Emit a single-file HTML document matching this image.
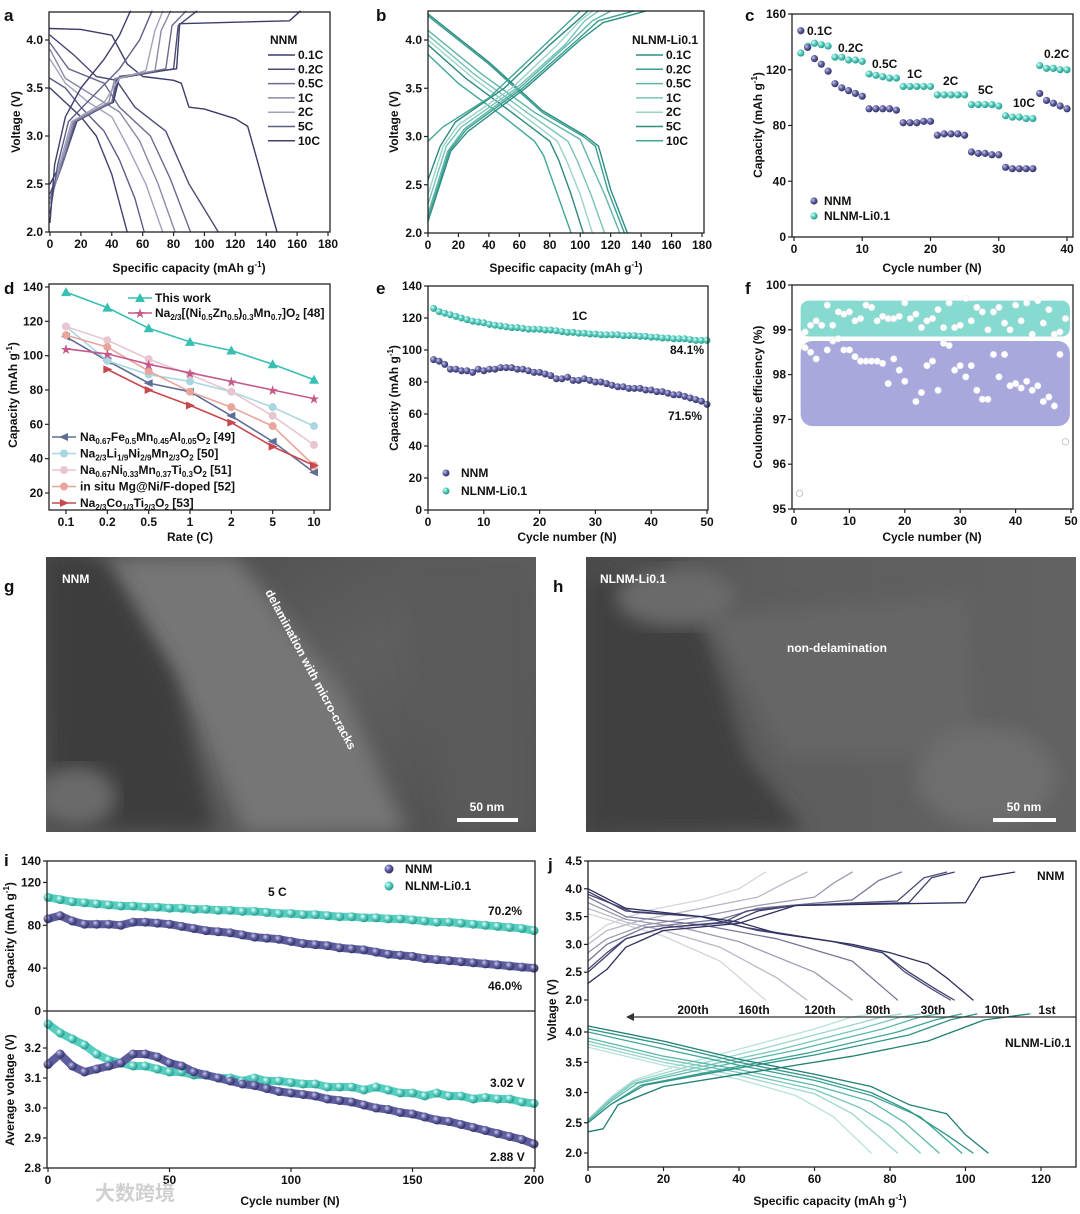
<!DOCTYPE html>
<html><head><meta charset="utf-8">
<style>
html,body{margin:0;padding:0;background:#fff;}
svg{display:block;font-family:"Liberation Sans","Noto Sans CJK SC",sans-serif;}
text{font-weight:bold;fill:#111;}
</style></head>
<body>
<svg id="fig" width="1080" height="1214" viewBox="0 0 1080 1214" xmlns="http://www.w3.org/2000/svg">
<defs>
<radialGradient id="gN" cx="35%" cy="35%" r="65%"><stop offset="0" stop-color="#c9c9ea"/><stop offset="0.5" stop-color="#6060a0"/><stop offset="1" stop-color="#33336a"/></radialGradient>
<radialGradient id="gL" cx="35%" cy="35%" r="65%"><stop offset="0" stop-color="#e6fffb"/><stop offset="0.5" stop-color="#56cbbd"/><stop offset="1" stop-color="#2a9c8f"/></radialGradient>
<linearGradient id="semG" x1="0" y1="0" x2="1" y2="1"><stop offset="0" stop-color="#4a4a4a"/><stop offset="0.5" stop-color="#5f5f5f"/><stop offset="1" stop-color="#505050"/></linearGradient>
<linearGradient id="semH" x1="0" y1="0" x2="1" y2="0"><stop offset="0" stop-color="#4a4a4a"/><stop offset="0.35" stop-color="#5d5d5d"/><stop offset="1" stop-color="#626262"/></linearGradient>
<filter id="blur"><feGaussianBlur stdDeviation="9"/></filter>
<filter id="blur2"><feGaussianBlur stdDeviation="4"/></filter>
</defs>
</svg>
<script>
// ---------------- DATA ----------------
// panel a (NNM rate, voltage profiles) [capacity, voltage]
const rateLabels=['0.1C','0.2C','0.5C','1C','2C','5C','10C'];
const aDis=[
[[0,4.12],[20,4.11],[40,4.05],[50,3.75],[60,3.62],[80,3.58],[85,3.55],[90,3.3],[100,3.28],[120,3.18],[128,3.1],[135,2.7],[140,2.4],[147,2.0]],
[[0,4.05],[15,3.85],[30,3.62],[43,3.58],[55,3.3],[75,3.05],[90,2.5],[109,2.0]],
[[0,3.97],[12,3.7],[35,3.55],[45,3.3],[65,3.0],[78,2.55],[91,2.0]],
[[0,3.9],[10,3.6],[30,3.4],[45,3.25],[58,2.95],[70,2.5],[81,2.0]],
[[0,3.8],[10,3.55],[25,3.35],[40,3.2],[50,2.9],[62,2.5],[73,2.0]],
[[0,3.6],[10,3.5],[20,3.3],[35,3.05],[45,2.75],[55,2.35],[61,2.0]],
[[0,3.5],[10,3.35],[20,3.2],[30,3.0],[40,2.6],[50,2.0]]];
const aChg=[
[[0,2.5],[10,2.8],[18,3.18],[41,3.35],[45,3.62],[82,3.7],[84,4.17],[155,4.2],[162,4.3]],
[[0,2.4],[9,2.75],[17,3.15],[40,3.35],[44,3.6],[80,3.7],[83,4.15],[95,4.3]],
[[0,2.35],[8,2.7],[16,3.15],[40,3.35],[43,3.6],[75,3.7],[79,4.15],[88,4.3]],
[[0,2.3],[7,2.7],[15,3.15],[38,3.35],[42,3.6],[68,3.68],[72,4.1],[78,4.3]],
[[0,2.3],[6,2.7],[14,3.15],[35,3.35],[45,3.6],[62,3.68],[68,4.1],[73,4.3]],
[[0,2.2],[5,2.7],[12,3.15],[30,3.45],[45,3.7],[58,4.0],[66,4.3]],
[[0,2.1],[3,2.7],[10,3.2],[20,3.5],[35,3.8],[45,4.05],[52,4.3]]];
// panel b (NLNM-Li0.1)
const bDis=[
[[0,4.27],[40,3.77],[75,3.27],[104,3.0],[112,2.9],[120,2.45],[131,2.0]],
[[0,4.25],[40,3.75],[75,3.25],[102,3.0],[110,2.9],[118,2.45],[129,2.0]],
[[0,4.1],[35,3.65],[70,3.25],[100,2.97],[106,2.75],[116,2.4],[126,2.0]],
[[0,4.05],[30,3.65],[65,3.25],[92,2.95],[98,2.75],[107,2.4],[116,2.0]],
[[0,4.0],[30,3.6],[60,3.25],[85,2.95],[91,2.75],[100,2.4],[108,2.0]],
[[0,3.95],[25,3.6],[55,3.25],[80,2.95],[86,2.75],[94,2.4],[102,2.0]],
[[0,3.85],[20,3.55],[50,3.2],[70,2.95],[76,2.8],[85,2.4],[94,2.0]]];
const bChg=[
[[0,2.12],[15,2.85],[26,3.05],[64,3.5],[100,4.0],[115,4.18],[143,4.3]],
[[0,2.15],[14,2.85],[25,3.07],[62,3.5],[98,4.0],[112,4.2],[135,4.3]],
[[0,2.2],[13,2.85],[24,3.08],[60,3.5],[95,4.0],[108,4.2],[120,4.3]],
[[0,2.3],[12,2.9],[22,3.1],[58,3.5],[90,3.95],[103,4.2],[112,4.3]],
[[0,2.4],[10,2.9],[20,3.12],[55,3.5],[85,3.95],[100,4.2],[108,4.3]],
[[0,2.55],[8,2.9],[18,3.15],[50,3.5],[80,3.95],[98,4.2],[105,4.3]],
[[0,2.95],[10,3.1],[40,3.4],[70,3.85],[90,4.15],[100,4.3]]];
// panel c rate capability
const cNNM=[148,136,128,124,119,110,107,105,103,101,92,92,92,92,91,82,82,82,83,83,73,74,74,74,73,61,60,60,59,59,50,49,49,49,49,103,98,96,94,92];
const cNLNM=[132,137,139,138,137,129,129,127,127,126,117,116,115,114,114,108,108,108,108,108,102,102,102,102,102,95,95,95,95,94,87,86,86,85,85,123,121,121,120,120];
const cRateText=['0.1C','0.2C','0.5C','1C','2C','5C','10C','0.2C'];
// panel d comparison
const dRates=['0.1','0.2','0.5','1','2','5','10'];
const dThis=[137,128,116,108,103,95,86];
const d48=[104,101,95,90,85,80,75];
const d49=[111,97,84,79,65,50,32];
const d50=[117,97,89,85,79,70,59];
const d51=[117,109,98,89,79,65,48];
const d52=[112,105,91,79,70,59,36];
const d53=[null,92,80,71,61,47,36];
// panel e cycling at 1C
const eNLNM=[126,124,123,122,121,120,119,118,117.5,117,116,115.5,115,114.5,114,114,113.5,113,113,113,112.5,112.5,112,111.5,111,111,110.5,110.5,110,110,109.5,109.5,109.5,109.5,109,109,109,108.5,108.5,108,108,107.5,107.5,107,107,107,106.5,106,106,106];
const eNNM=[94,93,91,88,88,87,87,86,88,87,88,88,89,89,89,88,88,87,86,86,85,84,82,82,83,81,81,82,81,80,80,79,78,77,77,76,76,76,75,75,74,74,73,72,72,71,70,69,68,66];
// panel f coulombic efficiency
const fCycL=[2,3,4,5,6,7,8,9,10,11,12,13,14,15,16,17,18,19,20,21,22,23,24,25,26,27,28,29,30,31,32,33,34,35,36,37,38,39,40,41,42,43,44,45,46,47,48,49];
const fCEL=[98.95,99.1,99.2,99.1,99.55,99.1,99.4,99.35,99.4,99.2,99.25,99.55,99.5,99.2,99.3,99.25,99.25,99.3,99.6,99.25,99.35,99.05,99.2,99.25,99.45,99.05,99.6,99.05,99.1,99.7,99.2,99.5,99.4,99.0,99.4,99.5,99.15,99.0,99.55,99.2,99.6,98.9,99.65,99.15,99.45,98.9,98.95,99.25];
const fCycN=[2,3,4,6,7,8,9,10,11,12,13,14,15,16,17,18,19,20,22,23,24,25,26,27,28,29,30,31,32,33,34,35,36,37,38,39,40,41,42,43,44,45,46,47,48];
const fCEN=[98.6,98.5,98.35,98.55,98.75,98.8,98.55,98.55,98.4,98.3,98.3,98.3,98.3,98.25,97.8,98.35,98.1,97.85,97.4,97.6,98.2,98.3,97.65,98.7,98.65,98.1,98.2,97.95,98.2,97.65,97.45,97.45,98.45,97.95,98.45,97.75,97.8,97.7,97.85,97.65,97.75,97.4,97.5,97.3,98.45];
const fOutCyc=[1,49];
const fOutCE=[95.35,96.5];
// panel i long cycling 5C (every 5 cycles)
const iCycles=[0,5,10,15,20,25,30,35,40,45,50,55,60,65,70,75,80,85,90,95,100,105,110,115,120,125,130,135,140,145,150,155,160,165,170,175,180,185,190,195,200];
const iCapNNM=[86,89,84,81,81,81,80,83,83,82,81,79,77,75,74,73,71,69,68,67,65,63,62,61,59,58,57,55,53,52,51,49,48,47,46,45,44,43,42,41,40];
const iCapNLNM=[106,104,102,101,100,99,98,98,97,97,96,96,95,95,94,94,93,93,92,91,91,90,90,89,88,88,87,87,86,86,85,84,83,83,82,81,80,79,78,77,75];
const iVNNM=[3.145,3.18,3.14,3.12,3.13,3.14,3.15,3.18,3.18,3.17,3.15,3.14,3.12,3.11,3.10,3.09,3.08,3.075,3.065,3.055,3.05,3.045,3.04,3.03,3.025,3.02,3.01,3.0,2.995,2.985,2.98,2.97,2.96,2.955,2.945,2.935,2.925,2.915,2.905,2.895,2.88];
const iVNLNM=[3.28,3.25,3.23,3.21,3.18,3.16,3.15,3.14,3.14,3.13,3.12,3.12,3.11,3.11,3.10,3.10,3.09,3.10,3.09,3.09,3.085,3.08,3.08,3.07,3.07,3.07,3.06,3.07,3.06,3.05,3.05,3.04,3.05,3.04,3.04,3.03,3.035,3.03,3.03,3.02,3.015];
// panel j profiles at selected cycles (1st,10th,30th,80th,120th,160th,200th)
const jCycleLabels=['1st','10th','30th','80th','120th','160th','200th'];
const jNDis=[
[[0,4.0],[10,3.65],[30,3.5],[40,3.4],[50,3.2],[70,3.0],[80,2.85],[90,2.65],[95,2.4],[102,2.0]],
[[0,3.95],[10,3.6],[30,3.5],[45,3.25],[65,3.05],[78,2.85],[85,2.5],[92,2.2],[97,2.0]],
[[0,3.9],[12,3.58],[30,3.5],[42,3.3],[65,3.05],[78,2.85],[84,2.5],[91,2.2],[96,2.0]],
[[0,3.85],[10,3.5],[30,3.35],[50,3.1],[70,2.7],[82,2.0]],
[[0,3.75],[10,3.45],[25,3.3],[40,3.05],[60,2.5],[70,2.0]],
[[0,3.65],[10,3.4],[20,3.25],[35,2.95],[50,2.4],[58,2.0]],
[[0,3.55],[10,3.35],[20,3.15],[35,2.7],[47,2.0]]];
const jNChg=[
[[0,2.3],[5,2.55],[10,2.95],[20,3.25],[40,3.38],[48,3.55],[55,3.7],[100,3.75],[104,4.2],[113,4.3]],
[[0,2.5],[5,2.8],[10,3.1],[20,3.3],[38,3.4],[45,3.6],[55,3.7],[85,3.75],[91,4.2],[97,4.3]],
[[0,2.55],[5,2.85],[10,3.1],[20,3.3],[36,3.4],[42,3.6],[55,3.7],[82,3.78],[89,4.2],[95,4.3]],
[[0,2.7],[5,3.0],[15,3.3],[35,3.45],[45,3.65],[70,3.8],[77,4.15],[83,4.3]],
[[0,2.85],[5,3.1],[15,3.35],[30,3.5],[45,3.7],[60,3.85],[65,4.1],[70,4.3]],
[[0,3.0],[5,3.25],[15,3.45],[30,3.65],[45,3.85],[52,4.1],[58,4.3]],
[[0,3.1],[5,3.35],[15,3.6],[30,3.8],[40,4.0],[47,4.3]]];
const jLDis=[
[[0,4.1],[20,3.85],[40,3.55],[60,3.3],[75,3.1],[85,2.8],[95,2.65],[100,2.3],[106,2.0]],
[[0,4.05],[20,3.8],[40,3.5],[60,3.25],[75,3.0],[85,2.7],[95,2.3],[102,2.0]],
[[0,4.0],[20,3.72],[40,3.45],[60,3.2],[75,2.95],[88,2.6],[99,2.0]],
[[0,3.9],[20,3.6],[40,3.38],[60,3.12],[75,2.85],[84,2.5],[93,2.0]],
[[0,3.85],[20,3.55],[40,3.33],[60,3.05],[72,2.75],[80,2.45],[88,2.0]],
[[0,3.8],[20,3.5],[40,3.28],[60,2.98],[70,2.65],[82,2.0]],
[[0,3.75],[20,3.45],[40,3.22],[55,2.95],[65,2.6],[75,2.0]]];
const jLChg=[
[[0,2.35],[4,2.4],[8,2.8],[20,3.1],[40,3.3],[70,3.6],[90,3.85],[105,4.2],[117,4.3]],
[[0,2.5],[6,2.8],[15,3.12],[35,3.35],[60,3.62],[85,3.95],[96,4.2],[103,4.3]],
[[0,2.5],[6,2.8],[14,3.12],[33,3.35],[58,3.65],[82,4.0],[92,4.2],[99,4.3]],
[[0,2.52],[6,2.85],[13,3.15],[30,3.38],[55,3.7],[78,4.05],[88,4.25],[93,4.3]],
[[0,2.55],[6,2.88],[12,3.15],[28,3.4],[50,3.7],[72,4.05],[83,4.25],[88,4.3]],
[[0,2.55],[6,2.9],[12,3.18],[26,3.42],[46,3.72],[66,4.05],[78,4.25],[83,4.3]],
[[0,2.55],[6,2.92],[12,3.2],[24,3.45],[42,3.75],[60,4.05],[70,4.25],[75,4.3]]];

// ---------------- HELPERS ----------------
const NS='http://www.w3.org/2000/svg';
const svg=document.getElementById('fig');
function mk(tag,attrs,parent){const e=document.createElementNS(NS,tag);for(const k in attrs)e.setAttribute(k,attrs[k]);(parent||svg).appendChild(e);return e;}
function lin(d0,d1,p0,p1){return v=>p0+(v-d0)*(p1-p0)/(d1-d0);}
function txt(x,y,s,name,o){o=o||{};const t=mk('text',{x:x,y:y,'font-size':o.fs||12,'text-anchor':o.anchor||'start'});
 if(o.fill)t.setAttribute('style','fill:'+o.fill);
 if(o.rot!==undefined)t.setAttribute('transform','rotate('+o.rot+' '+x+' '+y+')');
 if(o.html)t.innerHTML=s;else t.textContent=s;
 
 
 return t;}
function frame(x0,y0,x1,y1,name){const r=mk('rect',{x:x0,y:y0,width:x1-x0,height:y1-y0,fill:'none',stroke:'#222','stroke-width':1.3});
 
 }
function xticks(vals,labels,sx,yb,name){vals.forEach((v,i)=>{const x=sx(v);
 const l=mk('line',{x1:x,x2:x,y1:yb,y2:yb+4,stroke:'#222','stroke-width':1.2});
 
 
 txt(x,yb+16,labels[i],name+'-label',{anchor:'middle'});});}
function yticks(vals,labels,sy,xl,name){vals.forEach((v,i)=>{const y=sy(v);
 const l=mk('line',{x1:xl-4,x2:xl,y1:y,y2:y,stroke:'#222','stroke-width':1.2});
 
 
 txt(xl-6,y+4,labels[i],name+'-label',{anchor:'end'});});}
function poly(pts,sx,sy,color,w,name,op){const d=pts.filter(p=>p[1]!==null).map((p,i)=>(i?'L':'M')+sx(p[0]).toFixed(1)+' '+sy(p[1]).toFixed(1)).join(' ');
 const p=mk('path',{d:d,fill:'none',stroke:color,'stroke-width':w,'stroke-linejoin':'round','stroke-linecap':'round'});
 if(op)p.setAttribute('opacity',op);
 
 
 return p;}
function ball(x,y,r,grad,name){const c=mk('circle',{cx:x,cy:y,r:r,fill:'url(#'+grad+')'});
 
 }
function legLine(x0,x1,y,color,name){const l=mk('line',{x1:x0,x2:x1,y1:y,y2:y,stroke:color,'stroke-width':1.5});
 
 }
const ticks=(a,b,s)=>{const r=[];for(let v=a;v<=b+1e-9;v+=s)r.push(+v.toFixed(2));return r;};

// ---------------- PANEL A ----------------
(function(){const sx=lin(0,180,50,328),sy=lin(2,4,232,40);
 const cols=['#3c3c6c','#4b4b78','#6a6a90','#8a8aa8','#a2a2bb','#5c5c88','#40406e'];
 aDis.forEach((c,i)=>poly(c,sx,sy,cols[i],1.4,'a-discharge-'+rateLabels[i]));
 aChg.forEach((c,i)=>poly(c,sx,sy,cols[i],1.4,'a-charge-'+rateLabels[i]));
 frame(49,12,330,232,'a-plot-frame');
 xticks(ticks(0,180,20),ticks(0,180,20).map(String),sx,232,'a-x');
 yticks([2,2.5,3,3.5,4],['2.0','2.5','3.0','3.5','4.0'],sy,49,'a-y');
 txt(189,272,'Specific capacity (mAh g<tspan dy="-5" font-size="8">-1</tspan><tspan dy="5">)</tspan>','a-x-title',{anchor:'middle',html:1});
 txt(20,122,'Voltage (V)','a-y-title',{anchor:'middle',rot:-90});
 txt(4,21,'a','panel-label-a',{fs:17});
 txt(270,44,'NNM','a-legend-title');
 rateLabels.forEach((r,i)=>{const y=55+i*14.3;legLine(268,295,y,cols[i],'a-legend-line');txt(298,y+4,r,'a-legend-entry');});
})();
// ---------------- PANEL B ----------------
(function(){const sx=lin(0,180,428,702),sy=lin(2,4,233,40);
 const cols=['#2a8f83','#3a9e90','#5eb5a8','#78c3b6','#9ad3c8','#2f8a7f','#3fa698'];
 bDis.forEach((c,i)=>poly(c,sx,sy,cols[i],1.4,'b-discharge-'+rateLabels[i]));
 bChg.forEach((c,i)=>poly(c,sx,sy,cols[i],1.4,'b-charge-'+rateLabels[i]));
 frame(428,11,704,233,'b-plot-frame');
 xticks(ticks(0,180,20),ticks(0,180,20).map(String),sx,233,'b-x');
 yticks([2,2.5,3,3.5,4],['2.0','2.5','3.0','3.5','4.0'],sy,428,'b-y');
 txt(566,272,'Specific capacity (mAh g<tspan dy="-5" font-size="8">-1</tspan><tspan dy="5">)</tspan>','b-x-title',{anchor:'middle',html:1});
 txt(398,122,'Voltage (V)','b-y-title',{anchor:'middle',rot:-90});
 txt(376,21,'b','panel-label-b',{fs:17});
 txt(632,44,'NLNM-Li0.1','b-legend-title');
 rateLabels.forEach((r,i)=>{const y=55+i*14.3;legLine(636,663,y,cols[i],'b-legend-line');txt(666,y+4,r,'b-legend-entry');});
})();
// ---------------- PANEL C ----------------
(function(){const sx=lin(0,40,794,1067),sy=lin(0,160,237,14);
 cNLNM.forEach((v,i)=>ball(sx(i+1),sy(v),3.6,'gL','c-nlnm-point'));
 cNNM.forEach((v,i)=>ball(sx(i+1),sy(v),3.6,'gN','c-nnm-point'));
 frame(792,14,1073,237,'c-plot-frame');
 xticks([0,10,20,30,40],['0','10','20','30','40'],sx,237,'c-x');
 yticks([0,40,80,120,160],['0','40','80','120','160'],sy,792,'c-y');
 txt(932,272,'Cycle number (N)','c-x-title',{anchor:'middle'});
 txt(762,125,'Capacity (mAh g<tspan dy="-5" font-size="8">-1</tspan><tspan dy="5">)</tspan>','c-y-title',{anchor:'middle',rot:-90,html:1});
 txt(745,21,'c','panel-label-c',{fs:17});
 const lp=[[807,35],[838,52],[872,68],[907,78],[943,85],[978,94],[1013,107],[1044,58]];
 cRateText.forEach((s,i)=>txt(lp[i][0],lp[i][1],s,'c-rate-label'));
 ball(814,201,3.6,'gN','c-legend-nnm-marker');txt(824,205,'NNM','c-legend-entry');
 ball(814,216,3.6,'gL','c-legend-nlnm-marker');txt(824,220,'NLNM-Li0.1','c-legend-entry');
})();
// ---------------- PANEL D ----------------
(function(){const sx=lin(0,6,66,314),sy=lin(20,140,493,287);
 const series=[[d49,'#5d6f95','ltri','d49'],[d50,'#aad6e2','circ','d50'],[d51,'#e7c6cf','circ','d51'],[d52,'#e8a59c','circ','d52'],[d53,'#c9484f','rtri','d53'],[d48,'#c6598c','star','d48'],[dThis,'#37bfb2','tri','this-work']];
 function marker(x,y,t,c,name){let e;
  if(t==='tri')e=mk('path',{d:`M${x} ${y-5}L${x+5} ${y+4}L${x-5} ${y+4}Z`,fill:c});
  else if(t==='ltri')e=mk('path',{d:`M${x-5} ${y}L${x+4} ${y-4}L${x+4} ${y+4}Z`,fill:c});
  else if(t==='rtri')e=mk('path',{d:`M${x+5} ${y}L${x-4} ${y-4}L${x-4} ${y+4}Z`,fill:c});
  else if(t==='star')e=mk('text',{x:x,y:y+4,'font-size':11,'text-anchor':'middle',style:'fill:'+c});
  else e=mk('circle',{cx:x,cy:y,r:4,fill:c});
  if(t==='star')e.textContent='★';
  
  }
 series.forEach(s=>{poly(s[0].map((v,i)=>[i,v]),sx,sy,s[1],1.6,'d-line-'+s[3]);
  s[0].forEach((v,i)=>{if(v!==null)marker(sx(i),sy(v),s[2],s[1],'d-marker-'+s[3]);});});
 frame(49,284,330,510,'d-plot-frame');
 xticks([0,1,2,3,4,5,6],dRates,sx,510,'d-x');
 yticks([20,40,60,80,100,120,140],['20','40','60','80','100','120','140'],sy,49,'d-y');
 txt(190,541,'Rate (C)','d-x-title',{anchor:'middle'});
 txt(17,395,'Capacity (mAh g<tspan dy="-5" font-size="8">-1</tspan><tspan dy="5">)</tspan>','d-y-title',{anchor:'middle',rot:-90,html:1});
 txt(4,294,'d','panel-label-d',{fs:17});
 legLine(128,152,298,'#37bfb2','d-legend-line');marker(140,298,'tri','#37bfb2','d-legend-marker');txt(155,302,'This work','d-legend-entry');
 legLine(128,152,313,'#c6598c','d-legend-line');marker(140,313,'star','#c6598c','d-legend-marker');
 txt(155,317,'Na<tspan font-size="8" dy="3">2/3</tspan><tspan dy="-3">[(Ni</tspan><tspan font-size="8" dy="3">0.5</tspan><tspan dy="-3">Zn</tspan><tspan font-size="8" dy="3">0.5</tspan><tspan dy="-3">)</tspan><tspan font-size="8" dy="3">0.3</tspan><tspan dy="-3">Mn</tspan><tspan font-size="8" dy="3">0.7</tspan><tspan dy="-3">]O</tspan><tspan font-size="8" dy="3">2</tspan><tspan dy="-3"> [48]</tspan>','d-legend-entry',{html:1});
 const low=[['#5d6f95','ltri','Na<tspan font-size="8" dy="3">0.67</tspan><tspan dy="-3">Fe</tspan><tspan font-size="8" dy="3">0.5</tspan><tspan dy="-3">Mn</tspan><tspan font-size="8" dy="3">0.45</tspan><tspan dy="-3">Al</tspan><tspan font-size="8" dy="3">0.05</tspan><tspan dy="-3">O</tspan><tspan font-size="8" dy="3">2</tspan><tspan dy="-3"> [49]</tspan>'],
 ['#aad6e2','circ','Na<tspan font-size="8" dy="3">2/3</tspan><tspan dy="-3">Li</tspan><tspan font-size="8" dy="3">1/9</tspan><tspan dy="-3">Ni</tspan><tspan font-size="8" dy="3">2/9</tspan><tspan dy="-3">Mn</tspan><tspan font-size="8" dy="3">2/3</tspan><tspan dy="-3">O</tspan><tspan font-size="8" dy="3">2</tspan><tspan dy="-3"> [50]</tspan>'],
 ['#e7c6cf','circ','Na<tspan font-size="8" dy="3">0.67</tspan><tspan dy="-3">Ni</tspan><tspan font-size="8" dy="3">0.33</tspan><tspan dy="-3">Mn</tspan><tspan font-size="8" dy="3">0.37</tspan><tspan dy="-3">Ti</tspan><tspan font-size="8" dy="3">0.3</tspan><tspan dy="-3">O</tspan><tspan font-size="8" dy="3">2</tspan><tspan dy="-3"> [51]</tspan>'],
 ['#e8a59c','circ','in situ Mg@Ni/F-doped [52]'],
 ['#c9484f','rtri','Na<tspan font-size="8" dy="3">2/3</tspan><tspan dy="-3">Co</tspan><tspan font-size="8" dy="3">1/3</tspan><tspan dy="-3">Ti</tspan><tspan font-size="8" dy="3">2/3</tspan><tspan dy="-3">O</tspan><tspan font-size="8" dy="3">2</tspan><tspan dy="-3"> [53]</tspan>']];
 low.forEach((l,i)=>{const y=437+i*16.5;legLine(52,76,y,l[0],'d-legend-line');marker(64,y,l[1],l[0],'d-legend-marker');txt(80,y+4,l[2],'d-legend-entry',{html:1});});
})();
// ---------------- PANEL E ----------------
(function(){const sx=lin(0,50,428,707),sy=lin(0,140,510,286);
 eNLNM.forEach((v,i)=>ball(sx(i+1),sy(v),3.5,'gL','e-nlnm-point'));
 eNNM.forEach((v,i)=>ball(sx(i+1),sy(v),3.5,'gN','e-nnm-point'));
 frame(428,286,708,510,'e-plot-frame');
 xticks([0,10,20,30,40,50],['0','10','20','30','40','50'],sx,510,'e-x');
 yticks(ticks(0,140,20),ticks(0,140,20).map(String),sy,428,'e-y');
 txt(567,541,'Cycle number (N)','e-x-title',{anchor:'middle'});
 txt(398,398,'Capacity (mAh g<tspan dy="-5" font-size="8">-1</tspan><tspan dy="5">)</tspan>','e-y-title',{anchor:'middle',rot:-90,html:1});
 txt(376,294,'e','panel-label-e',{fs:17});
 txt(572,320,'1C','e-rate-label');
 txt(670,354,'84.1%','e-retention-nlnm');
 txt(668,420,'71.5%','e-retention-nnm');
 ball(446,473,3.5,'gN','e-legend-nnm-marker');txt(461,477,'NNM','e-legend-entry');
 ball(446,491,3.5,'gL','e-legend-nlnm-marker');txt(461,495,'NLNM-Li0.1','e-legend-entry');
})();
// ---------------- PANEL F ----------------
(function(){const sx=lin(0,50,794,1071),sy=lin(95,100,509,285);
 const b1=mk('rect',{x:sx(1.2),y:sy(99.65),width:sx(49.8)-sx(1.2),height:sy(98.85)-sy(99.65),rx:8,fill:'#86dad0'});
 
 
 const b2=mk('rect',{x:sx(1.2),y:sy(98.75),width:sx(49.8)-sx(1.2),height:sy(96.85)-sy(98.75),rx:12,fill:'#a8a8dd'});
 
 
 const pt=(c,v,name)=>{const e=mk('circle',{cx:sx(c),cy:sy(v),r:3.2,fill:'#fff',stroke:'#e8e8f0','stroke-width':0.6});
  
  };
 fCycL.forEach((c,i)=>pt(c,fCEL[i],'f-nlnm-point'));
 fCycN.forEach((c,i)=>pt(c,fCEN[i],'f-nnm-point'));
 fOutCyc.forEach((c,i)=>{const e=mk('circle',{cx:sx(c),cy:sy(fOutCE[i]),r:3.2,fill:'#fff',stroke:'#bbb','stroke-width':0.8});
  
  });
 frame(792,285,1073,509,'f-plot-frame');
 xticks([0,10,20,30,40,50],['0','10','20','30','40','50'],sx,509,'f-x');
 yticks([95,96,97,98,99,100],['95','96','97','98','99','100'],sy,792,'f-y');
 txt(932,541,'Cycle number (N)','f-x-title',{anchor:'middle'});
 txt(762,397,'Coulombic efficiency (%)','f-y-title',{anchor:'middle',rot:-90});
 txt(745,294,'f','panel-label-f',{fs:17});
})();
// ---------------- SEM G/H ----------------
(function(){
 const g=mk('svg',{x:46,y:557,width:490,height:275});
 
 
 mk('rect',{width:490,height:275,fill:'url(#semG)'},g);
 mk('path',{d:'M40 0 L190 0 L300 140 L360 275 L200 275 L150 160 L80 60 Z',fill:'#767676',filter:'url(#blur)'},g);
 mk('path',{d:'M0 0 L60 0 L130 120 L170 275 L0 275 Z',fill:'#3c3c3c',filter:'url(#blur)'},g);
 mk('path',{d:'M350 0 L490 0 L490 275 L400 275 Z',fill:'#5a5a5a',filter:'url(#blur)'},g);
 mk('ellipse',{cx:30,cy:240,rx:40,ry:30,fill:'#6a6a6a',filter:'url(#blur)'},g);
 const h=mk('svg',{x:586,y:557,width:490,height:275});
 
 
 mk('rect',{width:490,height:275,fill:'url(#semH)'},h);
 mk('path',{d:'M0 30 L80 0 L120 80 L160 200 L220 275 L0 275 Z',fill:'#404040',filter:'url(#blur)'},h);
 mk('path',{d:'M120 60 L380 40 L390 200 L200 200 Z',fill:'#666',filter:'url(#blur)'},h);
 mk('ellipse',{cx:400,cy:220,rx:70,ry:50,fill:'#6e6e6e',filter:'url(#blur)'},h);
 mk('ellipse',{cx:90,cy:40,rx:60,ry:30,fill:'#6a6a6a',filter:'url(#blur)'},h);
 txt(4,592,'g','panel-label-g',{fs:17});
 txt(553,592,'h','panel-label-h',{fs:17});
 txt(62,583,'NNM','g-sample-label',{fill:'#fff'});
 txt(265,592,'delamination with micro-cracks','g-annotation',{fill:'#fff',rot:62,fs:12});
 txt(600,583,'NLNM-Li0.1','h-sample-label',{fill:'#fff'});
 txt(837,652,'non-delamination','h-annotation',{fill:'#fff',anchor:'middle'});
 const s1=mk('rect',{x:457,y:818,width:61,height:4,fill:'#fff'});
 
 
 txt(487,811,'50 nm','g-scale-label',{fill:'#fff',anchor:'middle'});
 const s2=mk('rect',{x:993,y:818,width:63,height:4,fill:'#fff'});
 
 
 txt(1024,811,'50 nm','h-scale-label',{fill:'#fff',anchor:'middle'});
})();
// ---------------- PANEL I ----------------
(function(){const sx=lin(0,200,48,534),syT=lin(0,140,1011,861),syB=lin(2.8,3.2,1168,1048);
 const band=(vals,sy,c,name)=>poly(iCycles.map((x,i)=>[x,vals[i]]),sx,sy,c,8,name);
 band(iCapNLNM,syT,'#55cdbf','i-nlnm-capacity-band');
 band(iCapNNM,syT,'#5d5d9e','i-nnm-capacity-band');
 band(iVNLNM,syB,'#55cdbf','i-nlnm-voltage-band');
 band(iVNNM,syB,'#5d5d9e','i-nnm-voltage-band');
 iCycles.forEach((x,i)=>{ball(sx(x),syT(iCapNLNM[i]),4.5,'gL','i-nlnm-capacity-point');ball(sx(x),syT(iCapNNM[i]),4.5,'gN','i-nnm-capacity-point');
  ball(sx(x),syB(iVNLNM[i]),4.5,'gL','i-nlnm-voltage-point');ball(sx(x),syB(iVNNM[i]),4.5,'gN','i-nnm-voltage-point');});
 frame(47,861,535,1168,'i-plot-frame');
 const dv=mk('line',{x1:47,x2:535,y1:1011,y2:1011,stroke:'#222','stroke-width':1.3});
 
 
 xticks([0,50,100,150,200],['0','50','100','150','200'],sx,1168,'i-x');
 yticks([0,40,80,120,140],['0','40','80','120','140'],syT,47,'i-y-capacity');
 yticks([2.8,2.9,3.0,3.1,3.2],['2.8','2.9','3.0','3.1','3.2'],syB,47,'i-y-voltage');
 txt(290,1205,'Cycle number (N)','i-x-title',{anchor:'middle'});
 txt(14,935,'Capacity (mAh g<tspan dy="-5" font-size="8">-1</tspan><tspan dy="5">)</tspan>','i-y-capacity-title',{anchor:'middle',rot:-90,html:1});
 txt(14,1090,'Average voltage (V)','i-y-voltage-title',{anchor:'middle',rot:-90});
 txt(4,866,'i','panel-label-i',{fs:17});
 txt(268,896,'5 C','i-rate-label');
 txt(488,915,'70.2%','i-retention-nlnm');
 txt(488,990,'46.0%','i-retention-nnm');
 txt(490,1087,'3.02 V','i-voltage-nlnm');
 txt(490,1161,'2.88 V','i-voltage-nnm');
 ball(389,869,4.5,'gN','i-legend-nnm-marker');txt(405,873,'NNM','i-legend-entry');
 ball(389,886,4.5,'gL','i-legend-nlnm-marker');txt(405,890,'NLNM-Li0.1','i-legend-entry');
 txt(95,1200,'大数跨境','watermark',{fill:'#d0d0d0',fs:20});
})();
// ---------------- PANEL J ----------------
(function(){const sx=lin(0,120,588,1041),syT=lin(2,4.5,1000,861),syB=lin(2,4,1153,1032);
 const nc=['#2f2f60','#3e3e6c','#4d4d7a','#76769a','#9a9ab2','#b8b8c8','#d4d4dc'];
 const lc=['#1f7f74','#2f9488','#3da597','#5ab8aa','#78c7bb','#9ad6cc','#b7e3dc'];
 for(let i=6;i>=0;i--){poly(jNDis[i],sx,syT,nc[i],1.3,'j-nnm-discharge-'+jCycleLabels[i]);poly(jNChg[i],sx,syT,nc[i],1.3,'j-nnm-charge-'+jCycleLabels[i]);
  poly(jLDis[i],sx,syB,lc[i],1.3,'j-nlnm-discharge-'+jCycleLabels[i]);poly(jLChg[i],sx,syB,lc[i],1.3,'j-nlnm-charge-'+jCycleLabels[i]);}
 frame(588,861,1076,1167,'j-plot-frame');
 xticks([0,20,40,60,80,100,120],['0','20','40','60','80','100','120'],sx,1167,'j-x');
 yticks([2,2.5,3,3.5,4,4.5],['2.0','2.5','3.0','3.5','4.0','4.5'],syT,588,'j-y-top');
 yticks([2,2.5,3,3.5,4],['2.0','2.5','3.0','3.5','4.0'],syB,588,'j-y-bottom');
 const ar=mk('line',{x1:632,x2:1076,y1:1017,y2:1017,stroke:'#333','stroke-width':1.2});
 
 
 const ah=mk('path',{d:'M626 1017 L634 1013 L634 1021 Z',fill:'#333'});
 
 
 const lx=[1047,997,933,878,820,754,693];
 jCycleLabels.forEach((s,i)=>txt(lx[i],1014,s,'j-cycle-label',{anchor:'middle'}));
 txt(1037,880,'NNM','j-nnm-label');
 txt(1005,1047,'NLNM-Li0.1','j-nlnm-label');
 txt(830,1205,'Specific capacity (mAh g<tspan dy="-5" font-size="8">-1</tspan><tspan dy="5">)</tspan>','j-x-title',{anchor:'middle',html:1});
 txt(556,1010,'Voltage (V)','j-y-title',{anchor:'middle',rot:-90});
 txt(548,870,'j','panel-label-j',{fs:17});
})();
</script>
</body></html>
